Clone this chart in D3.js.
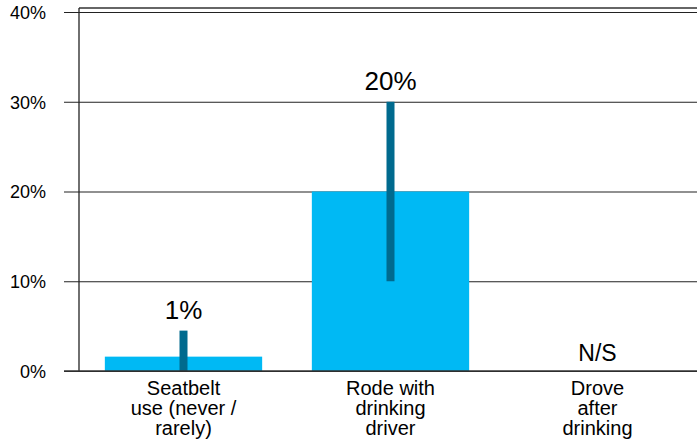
<!DOCTYPE html>
<html>
<head>
<meta charset="utf-8">
<script src="https://cdn.jsdelivr.net/npm/d3@7"></script>
<style>
  body { margin: 0; background: #fff; }
  text { font-family: "Liberation Sans", Arial, sans-serif; fill: #000; }
</style>
</head>
<body>
<div id="chart"></div>
<script>
// values (percent)
var categories = ["Seatbelt use (never / rarely)", "Rode with drinking driver", "Drove after drinking"];
var catLines = [["Seatbelt", "use (never /", "rarely)"], ["Rode with", "drinking", "driver"], ["Drove", "after", "drinking"]];
var values = [1.6, 20, null];
var errLow = [0, 10, null];
var errHigh = [4.5, 30, null];
var valueLabels = ["1%", "20%", "N/S"];
var yTicks = [0, 10, 20, 30, 40];

var width = 697, height = 442;
var margin = {top: 12, left: 80, right: -4, bottom: 71};

var svg = d3.select("#chart").append("svg").attr("width", width).attr("height", height);

var x = d3.scaleBand()
    .domain(categories)
    .range([margin.left, width - margin.right])
    .paddingInner(0.24)
    .paddingOuter(0.12);

var y = d3.scaleLinear().domain([0, 40]).range([height - margin.bottom, margin.top]);

// top frame line
svg.append("line")
    .attr("x1", margin.left - 1).attr("x2", width)
    .attr("y1", y(40) - 4).attr("y2", y(40) - 4)
    .attr("stroke", "#333").attr("stroke-width", 1.3);

// gridlines + tick labels
var yAxis = d3.axisLeft(y)
    .tickValues(yTicks)
    .tickFormat(function(d) { return d + "%"; })
    .tickSize(-(width - 64))
    .tickPadding(18);

var gy = svg.append("g").attr("transform", "translate(" + width + ",0)").call(yAxis);
gy.select(".domain").remove();
gy.selectAll(".tick line").attr("stroke", "#222").attr("stroke-width", 1.1)
    .attr("x1", -(width - 64)).attr("x2", 0);
gy.selectAll(".tick text")
    .attr("x", -(width - 46))
    .attr("text-anchor", "end")
    .attr("dy", "0.36em")
    .style("font-size", "18px")
    .style("font-family", "'Liberation Sans', Arial, sans-serif")
    .attr("fill", "#000");

// left axis line
svg.append("line")
    .attr("x1", margin.left - 1).attr("x2", margin.left - 1)
    .attr("y1", y(40) - 4).attr("y2", y(0))
    .attr("stroke", "#222").attr("stroke-width", 1.3);

// bars
svg.selectAll(".bar")
    .data(categories.filter(function(d, i) { return values[i] != null; }))
    .enter().append("rect")
    .attr("class", "bar")
    .attr("x", function(d) { return x(d); })
    .attr("width", x.bandwidth())
    .attr("y", function(d) { return y(values[categories.indexOf(d)]); })
    .attr("height", function(d) { return y(0) - y(values[categories.indexOf(d)]); })
    .attr("fill", "#00B9F4");

// error bars
svg.selectAll(".err")
    .data(categories.filter(function(d, i) { return errHigh[i] != null; }))
    .enter().append("rect")
    .attr("class", "err")
    .attr("x", function(d) { return x(d) + x.bandwidth() / 2 - 4; })
    .attr("width", 8)
    .attr("y", function(d) { return y(errHigh[categories.indexOf(d)]); })
    .attr("height", function(d) {
        var i = categories.indexOf(d);
        return y(errLow[i]) - y(errHigh[i]);
    })
    .attr("fill", "#006A8E");

// baseline
svg.append("line")
    .attr("x1", 64).attr("x2", width)
    .attr("y1", y(0)).attr("y2", y(0))
    .attr("stroke", "#333").attr("stroke-width", 1.5);

// value labels
svg.selectAll(".vlab")
    .data(categories)
    .enter().append("text")
    .attr("class", "vlab")
    .attr("x", function(d) { return x(d) + x.bandwidth() / 2; })
    .attr("y", function(d, i) {
        if (errHigh[i] == null) return y(0) - 10;
        return y(errHigh[i]) - 12;
    })
    .attr("text-anchor", "middle")
    .style("font-size", function(d, i) { return errHigh[i] == null ? "23px" : "26px"; })
    .text(function(d, i) { return valueLabels[i]; });

// category labels
var cl = svg.selectAll(".clab")
    .data(categories)
    .enter().append("text")
    .attr("class", "clab")
    .attr("text-anchor", "middle")
    .style("font-size", "20px");
cl.each(function(d, i) {
    var t = d3.select(this);
    catLines[i].forEach(function(line, j) {
        t.append("tspan")
            .attr("x", x(d) + x.bandwidth() / 2)
            .attr("y", y(0) + 24 + j * 20)
            .text(line);
    });
});
</script>
</body>
</html>
